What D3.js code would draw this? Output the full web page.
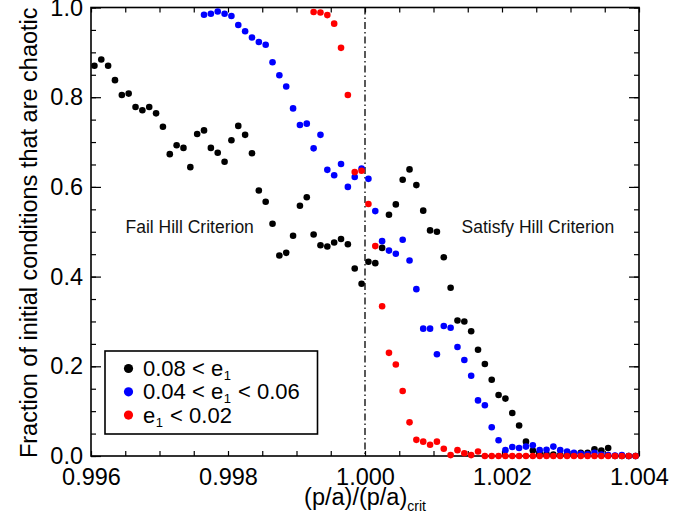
<!DOCTYPE html>
<html>
<head>
<meta charset="utf-8">
<script src="https://cdn.jsdelivr.net/npm/d3@7"></script>
<style>
  html, body { margin: 0; padding: 0; background: #fff; }
  svg { display: block; font-family: "Liberation Sans", Arial, Helvetica, sans-serif; }
</style>
</head>
<body>
<svg id="chart" width="696" height="522"></svg>
<script>
// Bin centres of (p/a)/(p/a)_crit
const xs = [
  0.99605, 0.99615, 0.99625, 0.99635, 0.99645, 0.99655, 0.99665, 0.99675, 0.99685, 0.99695,
  0.99705, 0.99715, 0.99725, 0.99735, 0.99745, 0.99755, 0.99765, 0.99775, 0.99785, 0.99795,
  0.99805, 0.99815, 0.99825, 0.99835, 0.99845, 0.99855, 0.99865, 0.99875, 0.99885, 0.99895,
  0.99905, 0.99915, 0.99925, 0.99935, 0.99945, 0.99955, 0.99965, 0.99975, 0.99985, 0.99995,
  1.00005, 1.00015, 1.00025, 1.00035, 1.00045, 1.00055, 1.00065, 1.00075, 1.00085, 1.00095,
  1.00105, 1.00115, 1.00125, 1.00135, 1.00145, 1.00155, 1.00165, 1.00175, 1.00185, 1.00195,
  1.00205, 1.00215, 1.00225, 1.00235, 1.00245, 1.00255, 1.00265, 1.00275, 1.00285, 1.00295,
  1.00305, 1.00315, 1.00325, 1.00335, 1.00345, 1.00355, 1.00365, 1.00375, 1.00385, 1.00395
];

// Fraction chaotic, 0.08 < e1
const fracHighE = [
  0.870, 0.884, 0.870, 0.838, 0.805, 0.808, 0.778, 0.771, 0.778, 0.764,
  0.734, 0.673, 0.693, 0.687, 0.644, 0.718, 0.726, 0.687, 0.676, 0.656,
  0.704, 0.736, 0.716, 0.675, 0.592, 0.567, 0.518, 0.447, 0.453, 0.491,
  0.558, 0.577, 0.494, 0.470, 0.467, 0.476, 0.484, 0.472, 0.418, 0.384,
  0.433, 0.430, 0.464, 0.538, 0.561, 0.616, 0.639, 0.604, 0.547, 0.503,
  0.500, 0.443, 0.375, 0.302, 0.300, 0.278, 0.237, 0.205, 0.170, 0.136,
  0.128, 0.096, 0.068, 0.032, 0.012, 0.006, 0.004, 0.003, 0.002, 0.004,
  0.003, 0.007, 0.007, 0.015, 0.012, 0.018, 0.000, 0.000, 0.000, 0.000
];

// Fraction chaotic, 0.04 < e1 < 0.06
const fracMidE = [
  null, null, null, null, null, null, null, null, null, null,
  null, null, null, null, null, null, 0.984, 0.986, 0.991, 0.986,
  0.981, 0.961, 0.947, 0.933, 0.923, 0.917, 0.878, 0.849, 0.824, 0.775,
  0.738, 0.741, 0.686, 0.716, 0.638, 0.626, 0.651, 0.600, 0.622, 0.641,
  0.618, 0.546, 0.479, 0.458, 0.451, 0.482, 0.436, 0.372, 0.284, 0.284,
  0.227, 0.290, 0.286, 0.243, 0.214, 0.179, 0.124, 0.113, 0.064, 0.035,
  0.013, 0.020, 0.018, 0.021, 0.024, 0.013, 0.014, 0.021, 0.013, 0.010,
  0.007, 0.005, 0.004, 0.007, 0.003, 0.002, 0.001, 0.002, 0.000, 0.000
];

// Fraction chaotic, e1 < 0.02
const fracLowE = [
  null, null, null, null, null, null, null, null, null, null,
  null, null, null, null, null, null, null, null, null, null,
  null, null, null, null, null, null, null, null, null, null,
  null, null, 0.990, 0.989, 0.983, 0.964, 0.910, 0.805, 0.633, 0.636,
  0.562, 0.468, 0.334, 0.230, 0.204, 0.145, 0.075, 0.036, 0.032, 0.025,
  0.032, 0.016, 0.002, 0.013, 0.006, 0.002, 0.010, 0.000, 0.000, 0.000,
  0.000, 0.000, 0.000, 0.000, 0.000, 0.000, 0.000, 0.000, 0.000, 0.000,
  0.000, 0.000, 0.000, 0.000, 0.000, 0.000, 0.000, 0.000, 0.000, 0.000
];

const seriesNames = ["0.08 < e1", "0.04 < e1 < 0.06", "e1 < 0.02"];
const seriesColors = ["#000000", "#0000ff", "#ff0000"];
const xTickLabels = [0.996, 0.998, 1.000, 1.002, 1.004];
const yTickLabels = [0.0, 0.2, 0.4, 0.6, 0.8, 1.0];
const criticalRatio = 1.000;

const svg = d3.select("#chart");
const plotL = 91, plotR = 639, plotT = 7.5, plotB = 456;

const x = d3.scaleLinear().domain([0.996, 1.004]).range([plotL, plotR]);
const y = d3.scaleLinear().domain([0, 1]).range([plotB, plotT]);

const xMinor = d3.range(0, 17).map(i => +(0.996 + i * 0.0005).toFixed(4));
const yMinor = d3.range(0, 21).map(i => +(i * 0.05).toFixed(2));
const labelSize = 23.5;

function styleAxis(g) {
  g.select(".domain").remove();
  g.selectAll(".tick line").attr("stroke", "#000").attr("stroke-width", 1.2);
  g.selectAll("text").attr("fill", "#000").style("font-size", labelSize + "px")
    .style("font-family", "'Liberation Sans', Arial, sans-serif");
}

// bottom axis: ticks every 0.0005, labels every 0.002
svg.append("g").attr("transform", `translate(0,${plotB})`)
  .call(d3.axisBottom(x).tickValues(xMinor).tickSizeInner(-5).tickSizeOuter(0).tickPadding(12)
    .tickFormat(d => xTickLabels.some(v => Math.abs(v - d) < 1e-9) ? d3.format(".3f")(d) : ""))
  .call(styleAxis);

// top axis
svg.append("g").attr("transform", `translate(0,${plotT})`)
  .call(d3.axisTop(x).tickValues(xMinor).tickSizeInner(-5).tickSizeOuter(0).tickFormat(""))
  .call(styleAxis);

// left axis: minor ticks, then labelled major ticks
svg.append("g").attr("transform", `translate(${plotL},0)`)
  .call(d3.axisLeft(y).tickValues(yMinor).tickSizeInner(-5).tickSizeOuter(0).tickFormat(""))
  .call(styleAxis);
svg.append("g").attr("transform", `translate(${plotL},0)`)
  .call(d3.axisLeft(y).tickValues(yTickLabels).tickSizeInner(-10).tickSizeOuter(0).tickPadding(8)
    .tickFormat(d3.format(".1f")))
  .call(styleAxis);

// right axis
svg.append("g").attr("transform", `translate(${plotR},0)`)
  .call(d3.axisRight(y).tickValues(yMinor).tickSizeInner(-5).tickSizeOuter(0).tickFormat(""))
  .call(styleAxis);
svg.append("g").attr("transform", `translate(${plotR},0)`)
  .call(d3.axisRight(y).tickValues(yTickLabels).tickSizeInner(-10).tickSizeOuter(0).tickFormat(""))
  .call(styleAxis);

// plot frame
svg.append("rect")
  .attr("x", plotL).attr("y", plotT)
  .attr("width", plotR - plotL).attr("height", plotB - plotT)
  .attr("fill", "none").attr("stroke", "#000").attr("stroke-width", 1.6);

// critical ratio marker
svg.append("line")
  .attr("x1", x(criticalRatio)).attr("x2", x(criticalRatio))
  .attr("y1", plotT).attr("y2", plotB)
  .attr("stroke", "#000").attr("stroke-width", 1.3)
  .attr("stroke-dasharray", "7,3,1.5,3");

// region annotations
svg.append("text").attr("x", 125.5).attr("y", 233).text("Fail Hill Criterion")
  .style("font-size", "17.5px").attr("fill", "#111");
svg.append("text").attr("x", 461.5).attr("y", 232.5).text("Satisfy Hill Criterion")
  .style("font-size", "17.5px").attr("fill", "#111");

// points
const allSeries = [fracHighE, fracMidE, fracLowE];
allSeries.forEach((vals, si) => {
  const pts = xs.map((xv, i) => ({ x: xv, v: vals[i] })).filter(d => d.v !== null);
  svg.append("g").selectAll("circle").data(pts).join("circle")
    .attr("cx", d => x(d.x)).attr("cy", d => y(d.v))
    .attr("r", 3.3).attr("fill", seriesColors[si]);
});

// axis titles
svg.append("text")
  .attr("transform", `translate(37,${(plotT + plotB) / 2 + 1}) rotate(-90)`)
  .attr("text-anchor", "middle")
  .style("font-size", labelSize + "px")
  .text("Fraction of initial conditions that are chaotic");

const xt = svg.append("text")
  .attr("x", x(criticalRatio)).attr("y", 505)
  .attr("text-anchor", "middle")
  .style("font-size", labelSize + "px");
xt.append("tspan").text("(p/a)/(p/a)");
xt.append("tspan").attr("dy", 6).style("font-size", "14px").text("crit");

// legend
const lg = svg.append("g");
lg.append("rect").attr("x", 105).attr("y", 351).attr("width", 212.5).attr("height", 83)
  .attr("fill", "#fff").attr("stroke", "#000").attr("stroke-width", 1.6);
const legendRows = [
  { parts: [["0.08 < e", false], ["1", true]] },
  { parts: [["0.04 < e", false], ["1", true], [" < 0.06", false]] },
  { parts: [["e", false], ["1", true], [" < 0.02", false]] }
];
legendRows.forEach((row, i) => {
  const cy = 368.5 + i * 23.3;
  lg.append("circle").attr("cx", 128.5).attr("cy", cy).attr("r", 4.6).attr("fill", seriesColors[i]);
  const t = lg.append("text").attr("x", 143).attr("y", cy + 7.5).style("font-size", "22px")
    .attr("aria-label", seriesNames[i]);
  let sub = false;
  row.parts.forEach(([s, isSub]) => {
    const ts = t.append("tspan").text(s);
    if (isSub) { ts.attr("dy", 4).attr("dx", 0.5).style("font-size", "13px"); sub = true; }
    else if (sub) { ts.attr("dy", -4).attr("dx", 1); sub = false; }
  });
});
</script>
</body>
</html>
